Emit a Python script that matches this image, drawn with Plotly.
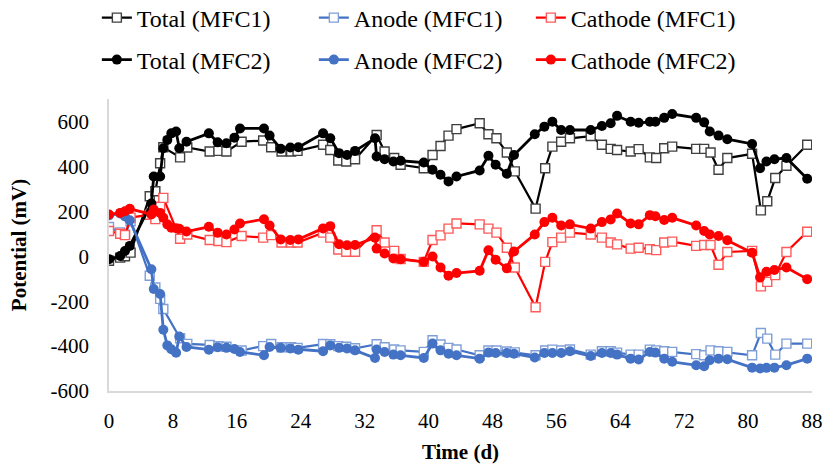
import plotly.graph_objects as go

# Sampling days for each reactor
days_mfc1 = [0, 1.4, 2.0, 2.7, 5.1, 5.8, 6.4, 6.8, 8.9, 9.8, 12.6, 13.7, 14.7, 16.6, 19.3, 20.3,
             21.6, 22.8, 23.6, 26.8, 27.7, 28.7, 29.7, 30.8, 33.5, 34.5, 35.7, 36.5, 39.4, 40.5,
             41.5, 42.5, 43.5, 46.4, 47.5, 48.5, 49.8, 50.8, 53.4, 54.6, 55.5, 56.6, 57.7, 60.3,
             61.7, 62.8, 63.6, 65.3, 66.3, 67.7, 68.5, 69.5, 70.5, 73.5, 74.5, 75.3, 76.3, 77.4,
             80.5, 81.6, 82.4, 83.4, 84.8, 87.4]
days_mfc2 = [0, 1.4, 2.0, 2.6, 5.3, 5.6, 6.4, 6.8, 7.3, 7.8, 8.4, 8.8, 9.7, 12.5, 13.6, 14.7,
             15.7, 16.4, 19.4, 20.1, 21.5, 22.7, 23.7, 26.8, 27.7, 28.8, 29.8, 30.8, 33.3, 33.5,
             34.5, 35.6, 36.5, 39.4, 40.5, 41.5, 42.5, 43.5, 46.4, 47.5, 48.4, 49.8, 50.7, 53.3,
             54.5, 55.5, 56.6, 57.7, 60.3, 61.7, 62.8, 63.6, 65.3, 66.3, 67.7, 68.4, 69.5, 70.5,
             73.5, 74.5, 75.2, 76.3, 77.4, 80.5, 81.5, 82.3, 83.3, 84.8, 87.4]

# Potentials (mV)
total_mfc1 = [-20, -6, 0, 16, 267, 289, 414, 485, 440, 484, 466, 469, 466, 510, 515, 485,
              466, 466, 469, 496, 473, 426, 422, 432, 540, 466, 437, 407, 392, 451,
              491, 537, 566, 592, 543, 525, 462, 378, 212, 392, 488, 510, 525, 535,
              496, 478, 473, 466, 477, 440, 437, 481, 488, 478, 478, 462, 385, 437,
              456, 204, 245, 348, 403, 496]
anode_mfc1 = [130, 106, 96, 156, -87, -139, -190, -235, -365, -390, -395, -401, -403, -420, -400, -391,
              -405, -405, -408, -391, -392, -400, -403, -410, -392, -405, -415, -419, -426, -374,
              -393, -408, -415, -441, -420, -420, -424, -428, -441, -420, -416, -420, -415, -438,
              -423, -423, -429, -438, -438, -416, -419, -423, -426, -436, -441, -419, -423, -426,
              -441, -342, -367, -438, -389, -389]
cathode_mfc1 = [112, 100, 94, 172, 185, 165, 220, 260, 78, 97, 72, 68, 63, 90, 83, 94,
                61, 61, 61, 105, 83, 30, 20, 20, 116, 61, 24, -12, -25, 72,
                93, 123, 146, 142, 123, 105, 38, -50, -227, -25, 63, 83, 105, 97,
                83, 61, 53, 34, 38, 31, 27, 61, 65, 46, 50, 50, -38, 19,
                24, -134, -114, -84, 19, 109]

total_mfc2 = [-13, 1, 23, 46, 235, 355, 355, 481, 518, 547, 555, 481, 510, 547, 507, 503,
              528, 569, 569, 537, 478, 484, 485, 547, 525, 459, 451, 469, 525, 444,
              432, 422, 425, 417, 385, 363, 333, 355, 382, 447, 407, 367, 451, 543,
              577, 599, 562, 562, 562, 580, 592, 625, 599, 594, 599, 599, 616, 633,
              616, 596, 555, 537, 521, 500, 392, 422, 432, 437, 345]
anode_mfc2 = [182, 190, 177, 160, -58, -146, -168, -327, -397, -414, -430, -357, -404, -416, -405, -408,
              -413, -426, -441, -404, -408, -411, -416, -423, -397, -408, -411, -419, -453, -415,
              -426, -438, -441, -453, -389, -419, -434, -441, -456, -429, -431, -431, -434, -451,
              -431, -431, -431, -423, -444, -431, -431, -438, -456, -460, -426, -429, -456, -470,
              -485, -490, -463, -456, -459, -496, -500, -497, -496, -485, -456]
cathode_mfc2 = [186, 193, 200, 211, 186, 208, 193, 171, 142, 127, 125, 122, 110, 131, 105, 97,
                119, 146, 165, 137, 75, 72, 75, 124, 134, 53, 49, 50, 83, 34,
                12, -10, -13, -25, -1, -50, -87, -75, -65, 27, -16, -54, 21, 97,
                152, 171, 137, 142, 123, 152, 164, 190, 146, 142, 183, 178, 161, 171,
                137, 112, 97, 90, 71, 16, -94, -69, -61, -50, -102]

x_ticks = [0, 8, 16, 24, 32, 40, 48, 56, 64, 72, 80, 88]
y_ticks = [-600, -400, -200, 0, 200, 400, 600]

BLACK = "#000000"
BLUE = "#4472C4"
RED = "#FF0000"
FONT = "Liberation Serif"

fig = go.Figure()

open_series = [
    ("Total (MFC1)", total_mfc1, BLACK, "#404040"),
    ("Anode (MFC1)", anode_mfc1, BLUE, "#7F9FD8"),
    ("Cathode (MFC1)", cathode_mfc1, RED, "#FF5A5A"),
]
for name, vals, col, edge in open_series:
    fig.add_trace(go.Scatter(
        x=days_mfc1, y=vals, name=name, mode="lines+markers",
        line=dict(color=col, width=2.2),
        marker=dict(symbol="square", size=9, color="white",
                    line=dict(color=edge, width=1.4)),
        legend="legend",
    ))

filled_series = [
    ("Total (MFC2)", total_mfc2, BLACK),
    ("Anode (MFC2)", anode_mfc2, BLUE),
    ("Cathode (MFC2)", cathode_mfc2, RED),
]
for name, vals, col in filled_series:
    fig.add_trace(go.Scatter(
        x=days_mfc2, y=vals, name=name, mode="lines+markers",
        line=dict(color=col, width=2.8),
        marker=dict(symbol="circle", size=10, color=col),
        legend="legend2",
    ))

legend_common = dict(
    orientation="h", xref="container", yref="container",
    xanchor="left", yanchor="middle",
    font=dict(family=FONT, size=24, color="#000000"),
    entrywidth=172, entrywidthmode="pixels",
    bgcolor="rgba(0,0,0,0)", itemclick=False,
)

fig.update_layout(
    width=835, height=472,
    margin=dict(l=109, r=14, t=99, b=78),
    paper_bgcolor="white", plot_bgcolor="white",
    font=dict(family=FONT, color="#000000"),
    showlegend=True,
    legend=dict(x=0.116, y=1 - 18 / 472, **legend_common),
    legend2=dict(x=0.116, y=1 - 60 / 472, **legend_common),
    xaxis=dict(
        range=[0, 88], tickvals=x_ticks, ticktext=[str(v) for v in x_ticks],
        showgrid=False, zeroline=False,
        showline=True, linecolor="#D9D9D9", linewidth=1.5,
        ticks="", ticklabelstandoff=10,
        tickfont=dict(family=FONT, size=21, color="#000000"),
        title=dict(text="<b>Time (d)</b>", font=dict(family=FONT, size=21, color="#000000"),
                   standoff=12),
    ),
    yaxis=dict(
        range=[-600, 700], tickvals=y_ticks, ticktext=[str(v) for v in y_ticks],
        showgrid=False, zeroline=False,
        showline=True, linecolor="#D9D9D9", linewidth=1.5,
        ticks="", ticklabelstandoff=14,
        tickfont=dict(family=FONT, size=21, color="#000000"),
        title=dict(text="<b>Potential (mV)</b>", font=dict(family=FONT, size=21, color="#000000"),
                   standoff=18),
    ),
)

fig.write_html("out.html")
